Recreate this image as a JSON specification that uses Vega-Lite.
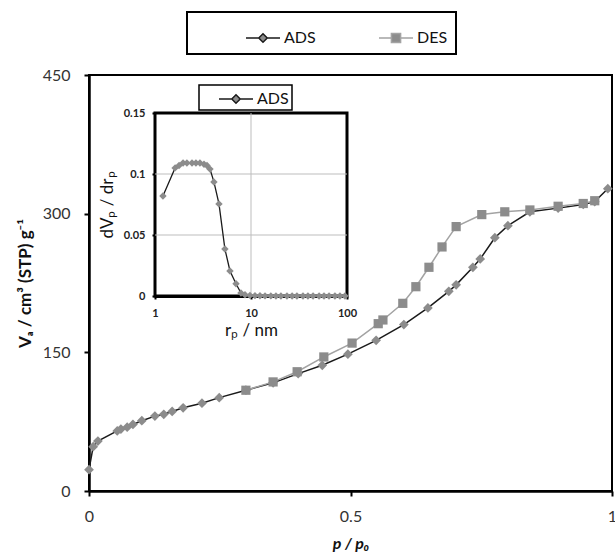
{
  "$schema": "https://vega.github.io/schema/vega-lite/v6.json",
  "width": 523,
  "height": 416,
  "autosize": {"type": "none"},
  "padding": {"left": 89, "top": 75, "right": 3, "bottom": 67},
  "config": {
    "font": "Lato",
    "view": {"stroke": "#000", "strokeWidth": 2},
    "axis": {"grid": false, "domainColor": "#000", "tickColor": "#000", "labelColor": "#333", "titleColor": "#111"}
  },
  "datasets": {
    "isotherm": [
      {"branch": "ADS", "p": 0.000, "V": 23},
      {"branch": "ADS", "p": 0.008, "V": 48},
      {"branch": "ADS", "p": 0.017, "V": 54},
      {"branch": "ADS", "p": 0.054, "V": 65},
      {"branch": "ADS", "p": 0.061, "V": 67},
      {"branch": "ADS", "p": 0.073, "V": 69},
      {"branch": "ADS", "p": 0.084, "V": 72},
      {"branch": "ADS", "p": 0.101, "V": 76},
      {"branch": "ADS", "p": 0.126, "V": 81},
      {"branch": "ADS", "p": 0.143, "V": 83},
      {"branch": "ADS", "p": 0.159, "V": 86},
      {"branch": "ADS", "p": 0.180, "V": 90},
      {"branch": "ADS", "p": 0.216, "V": 95},
      {"branch": "ADS", "p": 0.249, "V": 101},
      {"branch": "ADS", "p": 0.300, "V": 109},
      {"branch": "ADS", "p": 0.352, "V": 117},
      {"branch": "ADS", "p": 0.400, "V": 127},
      {"branch": "ADS", "p": 0.446, "V": 136},
      {"branch": "ADS", "p": 0.495, "V": 148},
      {"branch": "ADS", "p": 0.549, "V": 163},
      {"branch": "ADS", "p": 0.602, "V": 180},
      {"branch": "ADS", "p": 0.648, "V": 198},
      {"branch": "ADS", "p": 0.688, "V": 216},
      {"branch": "ADS", "p": 0.702, "V": 223},
      {"branch": "ADS", "p": 0.734, "V": 242},
      {"branch": "ADS", "p": 0.748, "V": 251},
      {"branch": "ADS", "p": 0.776, "V": 274},
      {"branch": "ADS", "p": 0.801, "V": 287},
      {"branch": "ADS", "p": 0.843, "V": 302},
      {"branch": "ADS", "p": 0.897, "V": 306},
      {"branch": "ADS", "p": 0.945, "V": 310},
      {"branch": "ADS", "p": 0.967, "V": 313},
      {"branch": "ADS", "p": 0.992, "V": 327},
      {"branch": "DES", "p": 0.300, "V": 109},
      {"branch": "DES", "p": 0.352, "V": 118},
      {"branch": "DES", "p": 0.398, "V": 129},
      {"branch": "DES", "p": 0.449, "V": 145},
      {"branch": "DES", "p": 0.503, "V": 160},
      {"branch": "DES", "p": 0.553, "V": 181},
      {"branch": "DES", "p": 0.562, "V": 185},
      {"branch": "DES", "p": 0.600, "V": 203},
      {"branch": "DES", "p": 0.625, "V": 221},
      {"branch": "DES", "p": 0.650, "V": 242},
      {"branch": "DES", "p": 0.675, "V": 264},
      {"branch": "DES", "p": 0.702, "V": 286},
      {"branch": "DES", "p": 0.751, "V": 299},
      {"branch": "DES", "p": 0.795, "V": 302},
      {"branch": "DES", "p": 0.843, "V": 304},
      {"branch": "DES", "p": 0.897, "V": 308},
      {"branch": "DES", "p": 0.945, "V": 311},
      {"branch": "DES", "p": 0.967, "V": 314}
    ],
    "psd": [
      {"curve": "ADS", "r": 1.21, "dv": 0.082},
      {"curve": "ADS", "r": 1.62, "dv": 0.105},
      {"curve": "ADS", "r": 1.78, "dv": 0.107},
      {"curve": "ADS", "r": 1.96, "dv": 0.109},
      {"curve": "ADS", "r": 2.15, "dv": 0.109},
      {"curve": "ADS", "r": 2.43, "dv": 0.109},
      {"curve": "ADS", "r": 2.67, "dv": 0.109},
      {"curve": "ADS", "r": 2.94, "dv": 0.109},
      {"curve": "ADS", "r": 3.24, "dv": 0.108},
      {"curve": "ADS", "r": 3.48, "dv": 0.107},
      {"curve": "ADS", "r": 3.74, "dv": 0.104},
      {"curve": "ADS", "r": 4.11, "dv": 0.0935},
      {"curve": "ADS", "r": 4.64, "dv": 0.0755},
      {"curve": "ADS", "r": 5.35, "dv": 0.0385},
      {"curve": "ADS", "r": 6.04, "dv": 0.0205},
      {"curve": "ADS", "r": 6.98, "dv": 0.010},
      {"curve": "ADS", "r": 7.86, "dv": 0.0025},
      {"curve": "ADS", "r": 8.66, "dv": 0.001},
      {"curve": "ADS", "r": 9.75, "dv": 0.0005},
      {"curve": "ADS", "r": 11.0, "dv": 0.0003},
      {"curve": "ADS", "r": 12.4, "dv": 0.0002},
      {"curve": "ADS", "r": 14.0, "dv": 0.0001},
      {"curve": "ADS", "r": 16.1, "dv": 0.0001},
      {"curve": "ADS", "r": 18.2, "dv": 0.0},
      {"curve": "ADS", "r": 20.5, "dv": 0.0},
      {"curve": "ADS", "r": 23.7, "dv": 0.0},
      {"curve": "ADS", "r": 26.8, "dv": 0.0},
      {"curve": "ADS", "r": 30.1, "dv": 0.0},
      {"curve": "ADS", "r": 34.8, "dv": 0.0},
      {"curve": "ADS", "r": 39.2, "dv": 0.0},
      {"curve": "ADS", "r": 44.3, "dv": 0.0},
      {"curve": "ADS", "r": 51.2, "dv": 0.0},
      {"curve": "ADS", "r": 57.6, "dv": 0.0},
      {"curve": "ADS", "r": 65.0, "dv": 0.0},
      {"curve": "ADS", "r": 74.9, "dv": 0.0},
      {"curve": "ADS", "r": 84.4, "dv": 0.0},
      {"curve": "ADS", "r": 95.3, "dv": 0.0}
    ],
    "inset_frame": [{"r1": 1, "r2": 100, "d1": 0, "d2": 0.15}],
    "inset_grid": [
      {"r1": 10, "r2": 10, "d1": 0, "d2": 0.15},
      {"r1": 1, "r2": 100, "d1": 0.05, "d2": 0.05},
      {"r1": 1, "r2": 100, "d1": 0.1, "d2": 0.1}
    ]
  },
  "layer": [
    {
      "data": {"name": "isotherm"},
      "layer": [
        {
          "mark": {"type": "line", "strokeWidth": 1.5},
          "encoding": {
            "x": {
              "field": "p", "type": "quantitative",
              "scale": {"domain": [0, 1], "nice": false},
              "axis": {
                "values": [0, 0.5, 1], "format": "~g", "domainWidth": 2.5, "tickWidth": 2, "tickSize": 5,
                "labelFontSize": 16, "labelPadding": 12, "labelFlush": false,
                "title": "p / p₀", "titleFontSize": 16, "titleFontWeight": "bold", "titleFontStyle": "italic", "titlePadding": 11
              }
            },
            "y": {
              "field": "V", "type": "quantitative",
              "scale": {"domain": [0, 450], "nice": false},
              "axis": {
                "values": [0, 150, 300, 450], "domainWidth": 2.5, "tickWidth": 2, "tickSize": 5,
                "labelFontSize": 16, "labelPadding": 14, "labelFlush": false,
                "title": "Vₐ / cm³ (STP) g⁻¹", "titleFontSize": 17, "titleFontWeight": "bold", "titlePadding": 8
              }
            },
            "color": {
              "field": "branch", "type": "nominal",
              "scale": {"domain": ["ADS", "DES"], "range": ["#1a1a1a", "#a3a3a3"]},
              "legend": {
                "orient": "none", "legendX": 98, "legendY": -63, "direction": "horizontal", "columns": 2,
                "title": null, "symbolSize": 1156, "symbolStrokeWidth": 1.5, "symbolOffset": 50, "labelOffset": 3,
                "labelFontSize": 16, "labelColor": "#111",
                "labelExpr": "datum.label == 'DES' ? 'DES\u2007\u2007' : datum.label",
                "padding": 8, "strokeColor": "#000", "columnPadding": 12,
                "encode": {
                  "legend": {"update": {"strokeWidth": {"value": 2}}},
                  "symbols": {"update": {
                    "shape": {"signal": "datum.value == 'ADS' ? 'M-1,0H-0.25M0.25,0H1M0,-0.25L0.25,0L0,0.25L-0.25,0Z' : 'M-1,0H-0.27M0.27,0H1M-0.27,-0.27H0.27V0.27H-0.27Z'"},
                    "fill": {"value": "#8c8c8c"}
                  }}
                }
              }
            }
          }
        },
        {
          "transform": [{"filter": "datum.branch == 'ADS'"}],
          "mark": {"type": "point", "shape": "diamond", "filled": true, "opacity": 1, "color": "#8c8c8c", "size": 95},
          "encoding": {
            "x": {"field": "p", "type": "quantitative"},
            "y": {"field": "V", "type": "quantitative"}
          }
        },
        {
          "transform": [{"filter": "datum.branch == 'DES'"}],
          "mark": {"type": "point", "shape": "square", "filled": true, "opacity": 1, "color": "#8c8c8c", "size": 85},
          "encoding": {
            "x": {"field": "p", "type": "quantitative"},
            "y": {"field": "V", "type": "quantitative"}
          }
        }
      ]
    },
    {
      "layer": [
        {
          "data": {"name": "inset_frame"},
          "mark": {"type": "rect", "fill": "#fff", "stroke": "#000", "strokeWidth": 3},
          "encoding": {
            "x": {
              "field": "r1", "type": "quantitative",
              "scale": {"type": "log", "domain": [1, 100], "range": [66, 258], "nice": false},
              "axis": {
                "orient": "bottom", "offset": -195, "values": [1, 10, 100], "format": "~g",
                "domainWidth": 3, "tickWidth": 2, "tickSize": 3, "labelFontSize": 11, "labelFontWeight": "bold",
                "labelPadding": 8, "labelFlush": false, "labelColor": "#222",
                "title": "rₚ / nm", "titleFontSize": 17, "titleFontWeight": "normal", "titlePadding": 4
              }
            },
            "x2": {"field": "r2"},
            "y": {
              "field": "d1", "type": "quantitative",
              "scale": {"domain": [0, 0.15], "range": [221, 38], "nice": false, "zero": false},
              "axis": {
                "orient": "left", "offset": -66, "values": [0, 0.05, 0.1, 0.15], "format": "~g",
                "domainWidth": 3, "tickWidth": 2, "tickSize": 3, "labelFontSize": 11, "labelFontWeight": "bold",
                "labelPadding": 7, "labelFlush": false, "labelColor": "#222",
                "title": "dVₚ / drₚ", "titleFontSize": 17, "titleFontWeight": "normal", "titlePadding": 7
              }
            },
            "y2": {"field": "d2"}
          }
        },
        {
          "data": {"name": "inset_grid"},
          "mark": {"type": "rule", "color": "#bdbdbd", "strokeWidth": 1},
          "encoding": {
            "x": {"field": "r1", "type": "quantitative"},
            "x2": {"field": "r2"},
            "y": {"field": "d1", "type": "quantitative"},
            "y2": {"field": "d2"}
          }
        },
        {
          "data": {"name": "psd"},
          "mark": {"type": "line", "strokeWidth": 1.3},
          "encoding": {
            "x": {"field": "r", "type": "quantitative"},
            "y": {"field": "dv", "type": "quantitative"},
            "color": {
              "field": "curve", "type": "nominal",
              "scale": {"domain": ["ADS"], "range": ["#1a1a1a"]},
              "legend": {
                "orient": "none", "legendX": 110, "legendY": 10, "title": null,
                "symbolSize": 400, "symbolStrokeWidth": 1.5, "symbolOffset": 23, "labelOffset": 10,
                "labelFontSize": 16, "labelColor": "#111",
                "labelExpr": "datum.label + '\u2007 '",
                "padding": 3, "strokeColor": "#000",
                "encode": {
                  "legend": {"update": {"strokeWidth": {"value": 1.5}}},
                  "symbols": {"update": {
                    "shape": {"value": "M-1.7,0H-0.42M0.42,0H1.7M0,-0.42L0.42,0L0,0.42L-0.42,0Z"},
                    "fill": {"value": "#8c8c8c"}
                  }}
                }
              }
            }
          }
        },
        {
          "data": {"name": "psd"},
          "mark": {"type": "point", "shape": "diamond", "filled": true, "opacity": 1, "color": "#8c8c8c", "size": 55},
          "encoding": {
            "x": {"field": "r", "type": "quantitative"},
            "y": {"field": "dv", "type": "quantitative"}
          }
        }
      ]
    }
  ],
  "resolve": {
    "scale": {"x": "independent", "y": "independent", "color": "independent"},
    "legend": {"color": "independent"}
  }
}
